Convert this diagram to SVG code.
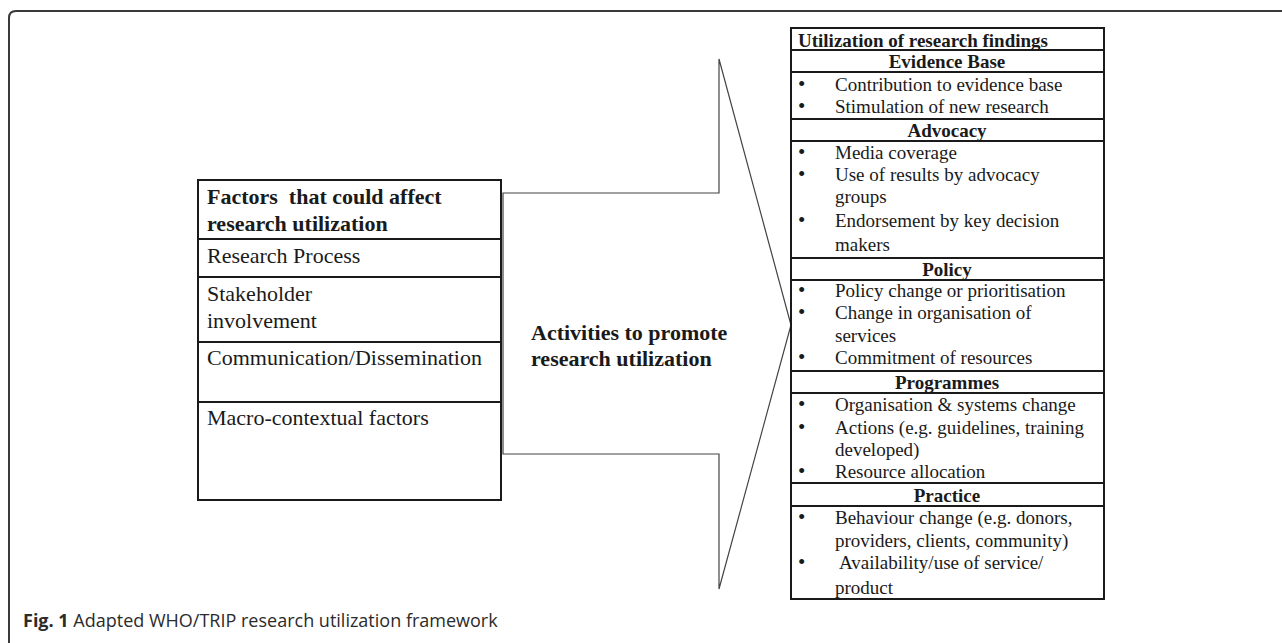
<svg xmlns="http://www.w3.org/2000/svg" width="1282" height="643" viewBox="0 0 1282 643">
<style>
.frame{fill:none;stroke:#3a3a3a;stroke-width:2}
.box{fill:#fff;stroke:#1a1a1a;stroke-width:2}
.sep{stroke:#1a1a1a;stroke-width:2}
.arrow{fill:#fff;stroke:#444;stroke-width:1.2}
.t{font-family:"Liberation Serif","Times New Roman",serif;fill:#1a1a1a}
.l{font-size:22px}
.lb{font-size:22px;font-weight:bold}
.r{font-size:19px}
.rb{font-size:19px;font-weight:bold}
.bu{font-size:21px}
.cap{font-family:"Open Sans","Noto Sans",sans-serif;font-size:18px;fill:#2b2b2b}
</style>
<rect width="1282" height="643" fill="#fff"/>
<path class="frame" d="M9,643 V18 Q9,11 16,11 H1282"/>
<g id="connectors">
<polygon class="arrow" points="503,193 719,193 719,59 791,325 719,589 719,454 503,454"/>
<text class="t lb" x="531" y="340">Activities to promote</text>
<text class="t lb" x="531" y="366">research utilization</text>
</g>
<g id="factors">
<rect class="box" x="198" y="180" width="303" height="320"/>
<line class="sep" x1="198" y1="239" x2="501" y2="239"/>
<line class="sep" x1="198" y1="277" x2="501" y2="277"/>
<line class="sep" x1="198" y1="342" x2="501" y2="342"/>
<line class="sep" x1="198" y1="402" x2="501" y2="402"/>
<text class="t lb" x="207" y="204">Factors&#160; that could affect</text>
<text class="t lb" x="207" y="231">research utilization</text>
<text class="t l" x="207" y="263">Research Process</text>
<text class="t l" x="207" y="301">Stakeholder</text>
<text class="t l" x="207" y="328">involvement</text>
<text class="t l" x="207" y="365">Communication/Dissemination</text>
<text class="t l" x="207" y="425">Macro-contextual factors</text>
</g>
<g id="utilization">
<rect class="box" x="791" y="28" width="313" height="571"/>
<line class="sep" x1="791" y1="50" x2="1104" y2="50"/>
<line class="sep" x1="791" y1="72" x2="1104" y2="72"/>
<line class="sep" x1="791" y1="119" x2="1104" y2="119"/>
<line class="sep" x1="791" y1="141" x2="1104" y2="141"/>
<line class="sep" x1="791" y1="258" x2="1104" y2="258"/>
<line class="sep" x1="791" y1="280" x2="1104" y2="280"/>
<line class="sep" x1="791" y1="371" x2="1104" y2="371"/>
<line class="sep" x1="791" y1="393" x2="1104" y2="393"/>
<line class="sep" x1="791" y1="483" x2="1104" y2="483"/>
<line class="sep" x1="791" y1="506" x2="1104" y2="506"/>
<text class="t rb" x="798" y="47">Utilization of research findings</text>
<text class="t rb" x="947" y="68" text-anchor="middle">Evidence Base</text>
<text class="t bu" x="798" y="91">•</text><text class="t r" x="835" y="91">Contribution to evidence base</text>
<text class="t bu" x="798" y="113">•</text><text class="t r" x="835" y="113">Stimulation of new research</text>
<text class="t rb" x="947" y="137" text-anchor="middle">Advocacy</text>
<text class="t bu" x="798" y="159">•</text><text class="t r" x="835" y="159">Media coverage</text>
<text class="t bu" x="798" y="181">•</text><text class="t r" x="835" y="181">Use of results by advocacy</text>
<text class="t r" x="835" y="203">groups</text>
<text class="t bu" x="798" y="227">•</text><text class="t r" x="835" y="227">Endorsement by key decision</text>
<text class="t r" x="835" y="251">makers</text>
<text class="t rb" x="947" y="276" text-anchor="middle">Policy</text>
<text class="t bu" x="798" y="297">•</text><text class="t r" x="835" y="297">Policy change or prioritisation</text>
<text class="t bu" x="798" y="319">•</text><text class="t r" x="835" y="319">Change in organisation of</text>
<text class="t r" x="835" y="342">services</text>
<text class="t bu" x="798" y="364">•</text><text class="t r" x="835" y="364">Commitment of resources</text>
<text class="t rb" x="947" y="389" text-anchor="middle">Programmes</text>
<text class="t bu" x="798" y="411">•</text><text class="t r" x="835" y="411">Organisation &amp; systems change</text>
<text class="t bu" x="798" y="434">•</text><text class="t r" x="835" y="434">Actions (e.g. guidelines, training</text>
<text class="t r" x="835" y="456">developed)</text>
<text class="t bu" x="798" y="478">•</text><text class="t r" x="835" y="478">Resource allocation</text>
<text class="t rb" x="947" y="502" text-anchor="middle">Practice</text>
<text class="t bu" x="798" y="524">•</text><text class="t r" x="835" y="524">Behaviour change (e.g. donors,</text>
<text class="t r" x="835" y="547">providers, clients, community)</text>
<text class="t bu" x="798" y="569">•</text><text class="t r" x="839" y="569">Availability/use of service/</text>
<text class="t r" x="835" y="594">product</text>
</g>
<text class="cap" x="23" y="627"><tspan font-weight="bold">Fig. 1</tspan> Adapted WHO/TRIP research utilization framework</text>
</svg>
